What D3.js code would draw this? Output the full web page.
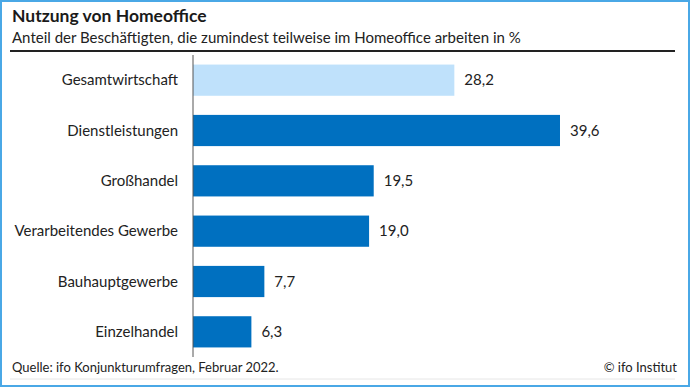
<!DOCTYPE html>
<html>
<head>
  <meta charset="utf-8">
  <script src="https://d3js.org/d3.v7.min.js"></script>
  <style>
    body { margin: 0; background: #fff; }
    svg { display: block; font-family: 'Lato', sans-serif; }
  </style>
</head>
<body>
<script>
  // data
  var categories = ["Gesamtwirtschaft", "Dienstleistungen", "Großhandel",
                    "Verarbeitendes Gewerbe", "Bauhauptgewerbe", "Einzelhandel"];
  var values = [28.2, 39.6, 19.5, 19.0, 7.7, 6.3];
  var valueLabels = ["28,2", "39,6", "19,5", "19,0", "7,7", "6,3"];

  var W = 690, H = 387;
  var svg = d3.select("body").append("svg")
      .attr("width", W).attr("height", H);

  // frame
  svg.append("rect")
      .attr("x", 1).attr("y", 1).attr("width", W - 2).attr("height", H - 2)
      .attr("fill", "#fff").attr("stroke", "#4aa8e6").attr("stroke-width", 2);

  // title + subtitle
  svg.append("text").attr("x", 12).attr("y", 22)
      .style("font-size", "17.5px").style("font-weight", "bold").attr("fill", "#1a1a1a")
      .text("Nutzung von Homeoffice");
  svg.append("text").attr("x", 12).attr("y", 43)
      .style("font-size", "15px").attr("fill", "#222")
      .text("Anteil der Beschäftigten, die zumindest teilweise im Homeoffice arbeiten in %");
  svg.append("line").attr("x1", 10).attr("x2", 675).attr("y1", 51).attr("y2", 51)
      .attr("stroke", "#222").attr("stroke-width", 2);

  // scales
  var y = d3.scaleBand().domain(categories).range([55, 357])
      .paddingInner(0.38).paddingOuter(0.19);
  var x = d3.scaleLinear().domain([0, 40]).range([193, 563.7]);

  // bars
  svg.selectAll("rect.bar").data(categories).enter().append("rect")
      .attr("class", "bar")
      .attr("x", x(0))
      .attr("y", function(d) { return y(d); })
      .attr("width", function(d, i) { return x(values[i]) - x(0); })
      .attr("height", y.bandwidth())
      .attr("fill", function(d, i) { return i == 0 ? "#bfe1fb" : "#0070c0"; });

  // value labels
  svg.selectAll("text.val").data(categories).enter().append("text")
      .attr("class", "val")
      .attr("x", function(d, i) { return x(values[i]) + 10; })
      .attr("y", function(d) { return y(d) + y.bandwidth() / 2 + 5; })
      .style("font-size", "15px").attr("fill", "#222")
      .text(function(d, i) { return valueLabels[i]; });

  // category labels
  svg.selectAll("text.cat").data(categories).enter().append("text")
      .attr("class", "cat")
      .attr("x", 178)
      .attr("y", function(d) { return y(d) + y.bandwidth() / 2 + 5; })
      .attr("text-anchor", "end")
      .style("font-size", "15px").attr("fill", "#222")
      .text(function(d) { return d; });

  // axis line
  svg.append("line").attr("x1", 193).attr("x2", 193).attr("y1", 55).attr("y2", 357)
      .attr("stroke", "#555").attr("stroke-width", 1);

  // footer
  svg.append("text").attr("x", 12).attr("y", 372)
      .style("font-size", "13px").attr("fill", "#222")
      .text("Quelle: ifo Konjunkturumfragen, Februar 2022.");
  svg.append("text").attr("x", 677).attr("y", 372).attr("text-anchor", "end")
      .style("font-size", "13px").attr("fill", "#222")
      .text("© ifo Institut");
  svg.append("line").attr("x1", 10).attr("x2", 675).attr("y1", 379).attr("y2", 379)
      .attr("stroke", "#e6e6e6").attr("stroke-width", 1);
</script>
</body>
</html>
